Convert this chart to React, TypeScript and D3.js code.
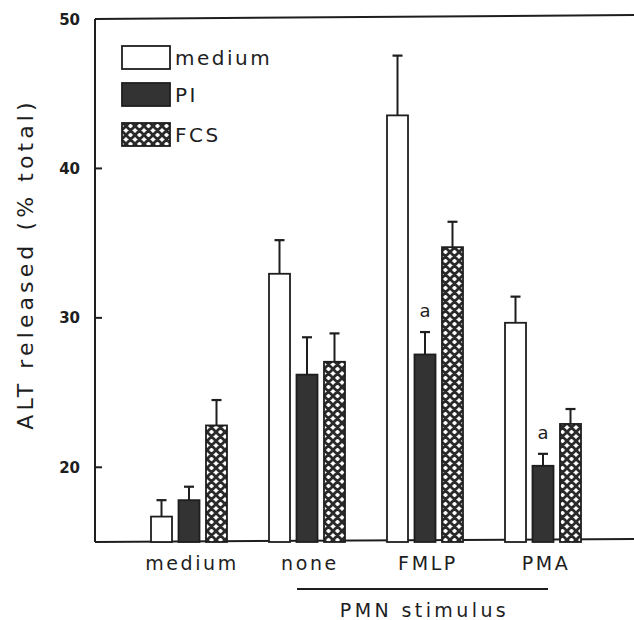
import React from "react";
import * as d3 from "d3";

const groups = ["medium", "none", "FMLP", "PMA"];
const series = ["medium", "PI", "FCS"];
const mediumVals = [16.7, 32.95, 43.55, 29.67];
const piVals = [17.8, 26.2, 27.55, 20.1];
const fcsVals = [22.8, 27.06, 34.73, 22.9];
const mediumErr = [1.1, 2.25, 4.0, 1.75];
const piErr = [0.9, 2.5, 1.5, 0.8];
const fcsErr = [1.7, 1.9, 1.7, 1.0];
const annotations = [
  { group: "FMLP", series: "PI", text: "a" },
  { group: "PMA", series: "PI", text: "a" },
];
const yTicks = [20, 30, 40, 50];
const yLabel = "ALT released (% total)";
const xTitle = "PMN stimulus";
const stimulusGroups = ["none", "FMLP", "PMA"];

const W = 634;
const H = 620;
const FONT = "'DejaVu Sans', Verdana, sans-serif";
const INK = "#1e1e1e";

export default function App() {
  const left = 95;
  const top = 19;
  const bottom = 542;
  const y = d3.scaleLinear().domain([15, 50]).range([bottom, top]);
  const x = d3.scaleBand().domain(groups).range([130, 602]).padding(0);
  const xi = d3.scaleBand().domain(series).range([-38, 38]).paddingInner(0.236);
  const bw = xi.bandwidth();

  const vals: Record<string, number[]> = { medium: mediumVals, PI: piVals, FCS: fcsVals };
  const errs: Record<string, number[]> = { medium: mediumErr, PI: piErr, FCS: fcsErr };
  const fills: Record<string, string> = { medium: "#ffffff", PI: "#333333", FCS: "url(#hatch)" };

  const cx = (g: string) => (x(g) as number) + x.bandwidth() / 2;
  const bx = (g: string, s: string) => cx(g) + (xi(s) as number);

  const lineX1 = cx(stimulusGroups[0]) - 10;
  const lineX2 = cx(stimulusGroups[stimulusGroups.length - 1]) + 5;

  return (
    <svg width={W} height={H} style={{ position: "absolute", left: 0, top: 0, background: "#fff" }}>
      <defs>
        <pattern id="hatch" patternUnits="userSpaceOnUse" width="9" height="9">
          <rect width="9" height="9" fill="#fff" />
          <path d="M0,0 L9,9 M9,0 L0,9 M-1,8 L1,10 M8,-1 L10,1 M-1,1 L1,-1 M8,10 L10,8" stroke="#2a2a2a" strokeWidth="2.8" />
        </pattern>
      </defs>
      {/* axes */}
      <line x1={left} y1={top} x2={W} y2={top - 4} stroke={INK} strokeWidth={2} />
      <line x1={left} y1={top} x2={left} y2={bottom} stroke={INK} strokeWidth={2} />
      <line x1={left} y1={bottom} x2={W} y2={bottom - 3} stroke={INK} strokeWidth={2} />
      {yTicks.map((t) => (
        <g key={t}>
          {t !== 50 && <line x1={left} x2={left + 7} y1={y(t)} y2={y(t)} stroke={INK} strokeWidth={2} />}
          <text x={80} y={y(t) + 5.5} textAnchor="end" fontFamily={FONT} fontSize={15} fontWeight="bold" fill={INK}>
            {t}
          </text>
        </g>
      ))}
      <text
        transform={`translate(33, 264) rotate(-90)`}
        textAnchor="middle"
        fontFamily={FONT}
        fontSize={22}
        fill={INK}
        letterSpacing={4.1}
      >
        {yLabel}
      </text>
      {/* bars */}
      {groups.map((g, gi) =>
        series.map((s) => {
          const v = vals[s][gi];
          const e = errs[s][gi];
          const xx = bx(g, s);
          const xc = xx + bw / 2;
          return (
            <g key={g + s}>
              <line x1={xc} x2={xc} y1={y(v)} y2={y(v + e)} stroke={INK} strokeWidth={2} />
              <line x1={xc - 5} x2={xc + 5} y1={y(v + e)} y2={y(v + e)} stroke={INK} strokeWidth={2.2} />
              <rect x={xx} y={y(v)} width={bw} height={bottom - y(v)} fill={fills[s]} stroke={INK} strokeWidth={1.8} />
            </g>
          );
        })
      )}
      {annotations.map((a, i) => {
        const gi = groups.indexOf(a.group);
        const v = vals[a.series][gi] + errs[a.series][gi];
        return (
          <text key={i} x={bx(a.group, a.series) + bw / 2} y={y(v) - 15} textAnchor="middle" fontFamily={FONT} fontSize={18} fill={INK}>
            {a.text}
          </text>
        );
      })}
      {/* x labels */}
      {groups.map((g) => (
        <text key={g} x={cx(g) + 3} y={570} textAnchor="middle" fontFamily={FONT} fontSize={19} fill={INK} letterSpacing={2.6}>
          {g}
        </text>
      ))}
      <line x1={lineX1} x2={lineX2} y1={589} y2={589} stroke={INK} strokeWidth={2} />
      <text x={(lineX1 + lineX2) / 2 + 2} y={617} textAnchor="middle" fontFamily={FONT} fontSize={19} fill={INK} letterSpacing={3.4}>
        {xTitle}
      </text>
      {/* legend */}
      {series.map((s, i) => {
        const ly = [46, 83, 123][i];
        return (
          <g key={s}>
            <rect x={122} y={ly} width={48} height={23} fill={fills[s]} stroke={INK} strokeWidth={1.8} />
            <text x={175} y={ly + 19} fontFamily={FONT} fontSize={20} fill={INK} letterSpacing={2.5}>
              {s}
            </text>
          </g>
        );
      })}
    </svg>
  );
}
